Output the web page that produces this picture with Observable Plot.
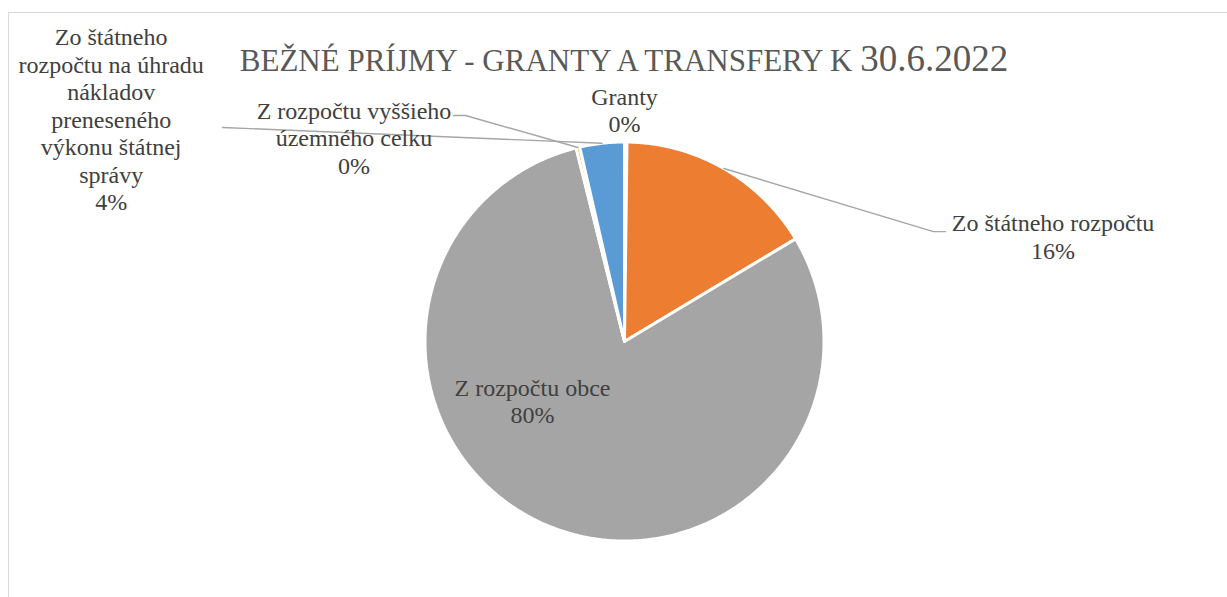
<!DOCTYPE html>
<html><head><meta charset="utf-8">
<script src="https://cdn.jsdelivr.net/npm/d3@7"></script>
<script src="https://cdn.jsdelivr.net/npm/@observablehq/plot@0.6"></script>
<style>
html,body{margin:0;padding:0;background:#fff;}
#wrap{position:relative;width:1227px;height:597px;overflow:hidden;background:#fff;}
#frame{position:absolute;left:8px;top:12px;width:1400px;height:800px;border-top:1.5px solid #D9D9D9;border-left:1.5px solid #D9D9D9;}
#chart{position:absolute;left:0;top:0;}
#title{position:absolute;left:0;width:1248px;top:40px;text-align:center;font-family:"Liberation Serif",serif;font-size:37px;line-height:37px;color:#595959;white-space:nowrap;}
#title .sc{font-size:31px;}
</style></head><body>
<div id="wrap"><div id="frame"></div><div id="chart"></div><div id="title"><span class="sc">BEŽNÉ PRÍJMY - GRANTY A TRANSFERY K </span>30.6.2022</div></div>
<script>
// ---- data ----
const categories = ["Granty", "Zo štátneho rozpočtu", "Z rozpočtu obce", "Z rozpočtu vyššieho územného celku", "Zo štátneho rozpočtu na úhradu nákladov preneseného výkonu štátnej správy"];
const values = [0.2, 16.2, 79.7, 0.3, 3.6];
const labelNames = ["Granty", "Zo štátneho rozpočtu", "Z rozpočtu obce", "Z rozpočtu vyššieho\núzemného celku", "Zo štátneho\nrozpočtu na úhradu\nnákladov\npreneseného\nvýkonu štátnej\nsprávy"];

// ---- styles / layout ----
const colors = ["#4472C4", "#ED7D31", "#A5A5A5", "#FFC000", "#5B9BD5"];
const W = 1227, H = 597, CX = 624, CY = 341, R = 199.5;
// label anchor (centre x, last baseline) in pie-radius units
const labelPos = [[0, 1.048], [2.148, 0.416], [-0.461, -0.411], [-1.356, 0.842], [-2.573, 0.657]];
// leader elbow points (pie-radius units), null = no leader
const leaderElbows = [null, [[1.609, 0.551], [1.549, 0.551]], null, [[-0.857, 1.133], [-0.797, 1.133]], [[-2.015, 1.073]]];

const total = d3.sum(values);
let acc = 0;
const slices = categories.map((c, i) => {
  const a0 = acc / total * 2 * Math.PI; acc += values[i];
  const a1 = acc / total * 2 * Math.PI;
  return {name: c, a0, a1, mid: (a0 + a1) / 2, value: values[i]};
});
const slicePts = [];
for (const s of slices) {
  slicePts.push({name: s.name, x: 0, y: 0});
  const n = Math.max(2, Math.ceil((s.a1 - s.a0) / (Math.PI / 360)));
  for (let k = 0; k <= n; k++) {
    const a = s.a0 + (s.a1 - s.a0) * k / n;
    slicePts.push({name: s.name, x: Math.sin(a), y: Math.cos(a)});
  }
  slicePts.push({name: s.name, x: 0, y: 0});
}
const labels = slices.map((s, i) => ({
  x: labelPos[i][0], y: labelPos[i][1],
  text: labelNames[i] + "\n" + Math.round(s.value / total * 100) + "%"
}));
const leaderPts = [];
slices.forEach((s, i) => {
  if (!leaderElbows[i]) return;
  for (const p of leaderElbows[i]) leaderPts.push({id: i, x: p[0], y: p[1]});
  leaderPts.push({id: i, x: Math.sin(s.mid), y: Math.cos(s.mid)});
});

const chart = Plot.plot({
  width: W, height: H, margin: 0,
  style: {background: "transparent", overflow: "visible"},
  x: {domain: [-CX / R, (W - CX) / R], axis: null},
  y: {domain: [-(H - CY) / R, CY / R], axis: null},
  color: {domain: categories, range: colors},
  marks: [
    Plot.line(slicePts, {x: "x", y: "y", z: "name", fill: "name", stroke: "white", strokeWidth: 3, strokeLinejoin: "miter", curve: "linear"}),
    Plot.line(leaderPts, {x: "x", y: "y", z: "id", stroke: "#A6A6A6", strokeWidth: 1.4, curve: "linear"}),
    Plot.text(labels, {x: "x", y: "y", text: "text", fontSize: 24, fontFamily: "Liberation Serif, serif", fill: "#404040", lineAnchor: "bottom", lineHeight: 1.146, textAnchor: "middle"})
  ]
});
document.getElementById("chart").appendChild(chart);
</script>
</body></html>
